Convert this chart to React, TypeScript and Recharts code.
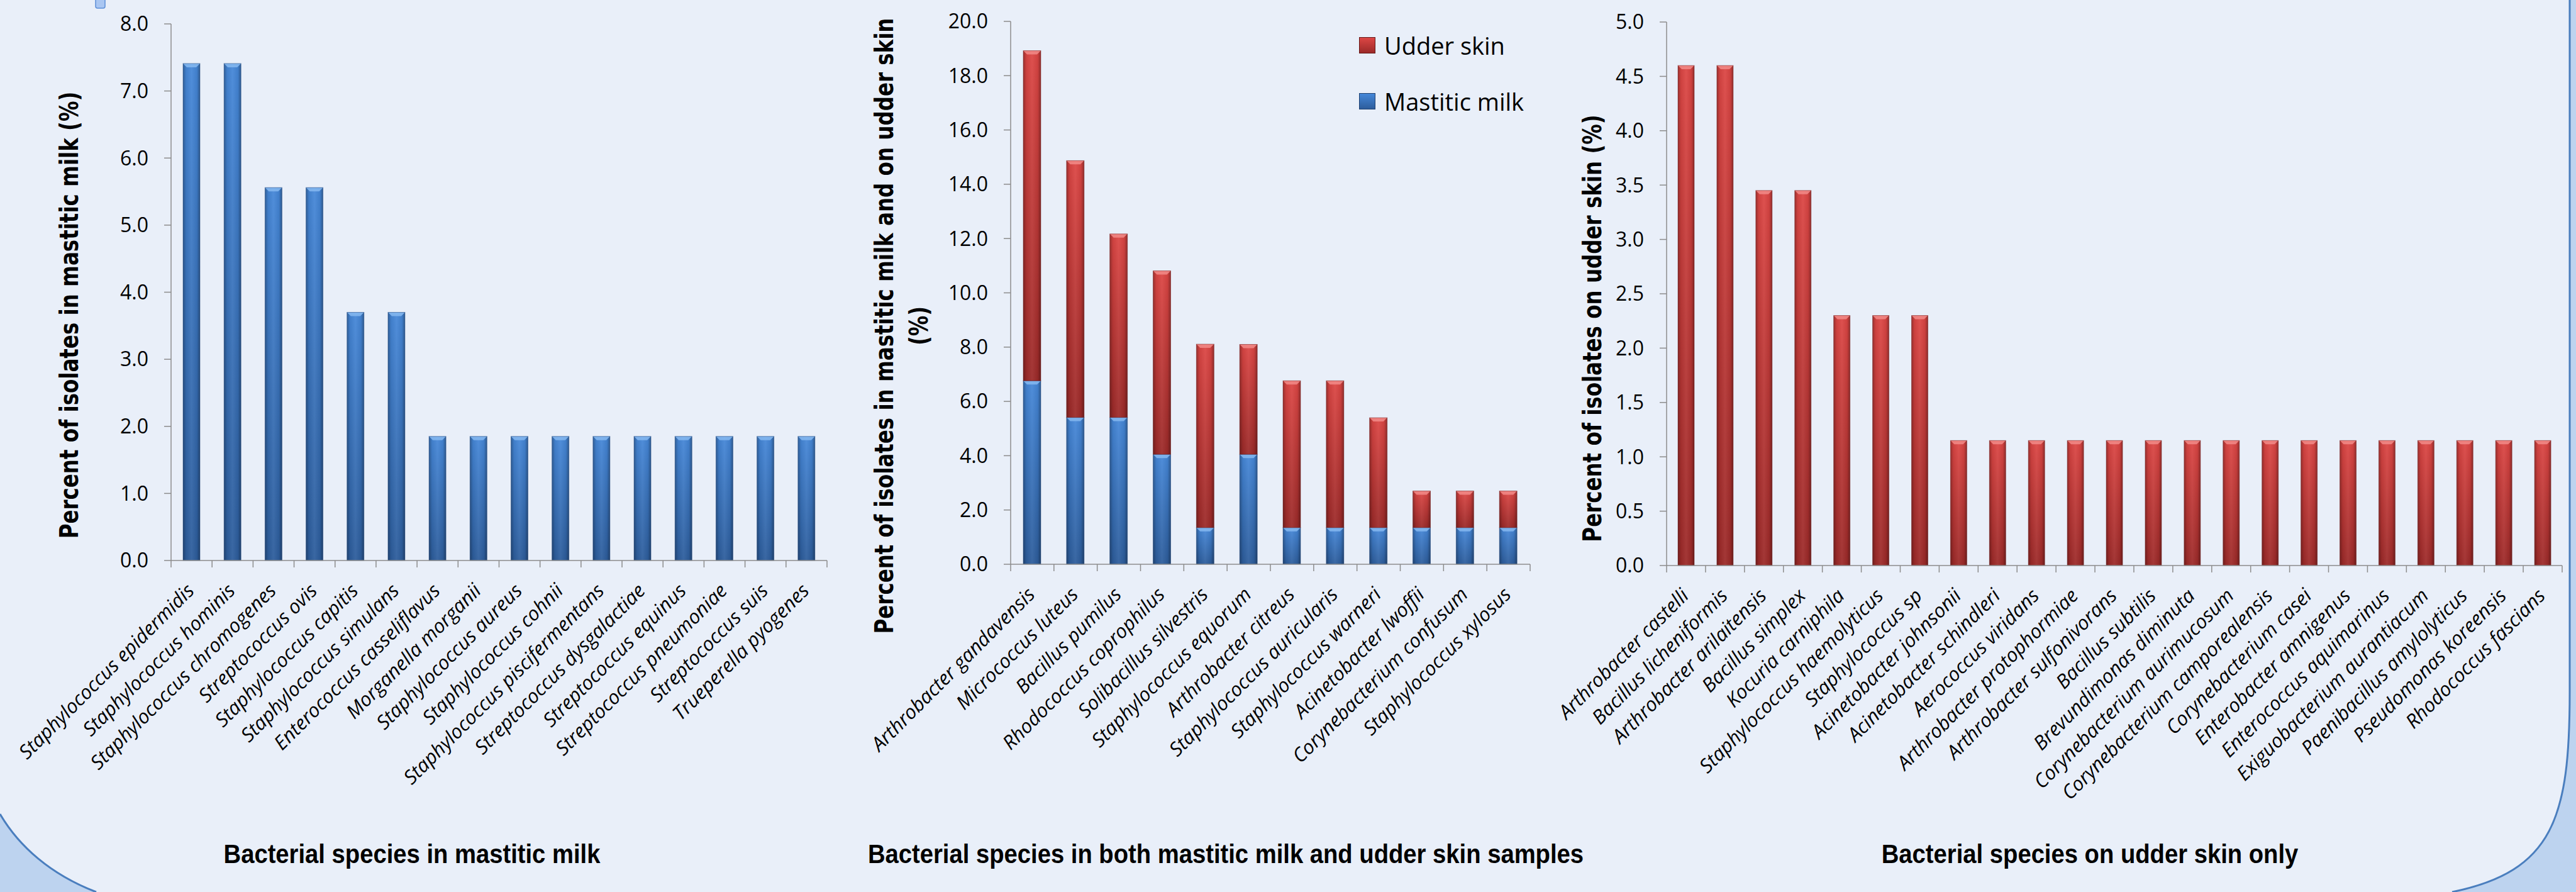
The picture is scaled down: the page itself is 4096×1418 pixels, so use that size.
import React from "react";
import { BarChart, Bar, XAxis, YAxis, Legend } from "recharts";

// Bacterial species in mastitic milk
const milkSpecies = [
  "Staphylococcus epidermidis",
  "Staphylococcus hominis",
  "Staphylococcus chromogenes",
  "Streptococcus ovis",
  "Staphylococcus capitis",
  "Staphylococcus simulans",
  "Enterococcus casseliflavus",
  "Morganella morganii",
  "Staphylococcus aureus",
  "Staphylococcus cohnii",
  "Staphylococcus piscifermentans",
  "Streptococcus dysgalactiae",
  "Streptococcus equinus",
  "Streptococcus pneumoniae",
  "Streptococcus suis",
  "Trueperella pyogenes",
];
const milkValues = [7.41, 7.41, 5.56, 5.56, 3.7, 3.7, 1.85, 1.85, 1.85, 1.85, 1.85, 1.85, 1.85, 1.85, 1.85, 1.85];
const milkTicks = [0, 1, 2, 3, 4, 5, 6, 7, 8];

// Bacterial species in both sample types (stacked)
const sharedSpecies = [
  "Arthrobacter gandavensis",
  "Micrococcus luteus",
  "Bacillus pumilus",
  "Rhodococcus coprophilus",
  "Solibacillus silvestris",
  "Staphylococcus equorum",
  "Arthrobacter citreus",
  "Staphylococcus auricularis",
  "Staphylococcus warneri",
  "Acinetobacter lwoffii",
  "Corynebacterium confusum",
  "Staphylococcus xylosus",
];
const sharedMilk = [6.76, 5.41, 5.41, 4.05, 1.35, 4.05, 1.35, 1.35, 1.35, 1.35, 1.35, 1.35];
const sharedSkin = [12.16, 9.46, 6.76, 6.76, 6.76, 4.05, 5.41, 5.41, 4.05, 1.35, 1.35, 1.35];
const sharedTicks = [0, 2, 4, 6, 8, 10, 12, 14, 16, 18, 20];

// Bacterial species on udder skin only
const skinSpecies = [
  "Arthrobacter castelli",
  "Bacillus licheniformis",
  "Arthrobacter arilaitensis",
  "Bacillus simplex",
  "Kocuria carniphila",
  "Staphylococcus haemolyticus",
  "Staphylococcus sp",
  "Acinetobacter johnsonii",
  "Acinetobacter schindleri",
  "Aerococcus viridans",
  "Arthrobacter protophormiae",
  "Arthrobacter sulfonivorans",
  "Bacillus subtilis",
  "Brevundimonas diminuta",
  "Corynebacterium aurimucosum",
  "Corynebacterium camporealensis",
  "Corynebacterium casei",
  "Enterobacter amnigenus",
  "Enterococcus aquimarinus",
  "Exiguobacterium aurantiacum",
  "Paenibacillus amylolyticus",
  "Pseudomonas koreensis",
  "Rhodococcus fascians",
];
const skinValues = [4.6, 4.6, 3.45, 3.45, 2.3, 2.3, 2.3, 1.15, 1.15, 1.15, 1.15, 1.15, 1.15, 1.15, 1.15, 1.15, 1.15, 1.15, 1.15, 1.15, 1.15, 1.15, 1.15];
const skinTicks = [0, 0.5, 1, 1.5, 2, 2.5, 3, 3.5, 4, 4.5, 5];

const milkData = milkSpecies.map((name, i) => ({ name, value: milkValues[i] }));
const sharedData = sharedSpecies.map((name, i) => ({ name, milk: sharedMilk[i], skin: sharedSkin[i] }));
const skinData = skinSpecies.map((name, i) => ({ name, value: skinValues[i] }));

const W = 4096;
const H = 1418;
const XH = 30;
const YW = 100;
const AXIS = "#8c8c8c";
const TICK_FONT = "'Open Sans', sans-serif";
const TITLE_FONT = "'DejaVu Sans', Verdana, sans-serif";
const XTITLE_FONT = "'Liberation Sans', Arial, sans-serif";

const p1 = { axisX: 272, axisEnd: 1315, top: 38, axisY: 891, barSize: 27 };
const p2 = { axisX: 1607, axisEnd: 2433, top: 34, axisY: 897, barSize: 28 };
const p3 = { axisX: 2650, axisEnd: 4074, top: 35, axisY: 899, barSize: 26 };

const frame = (p: typeof p1) => ({
  top: p.top,
  right: W - p.axisEnd,
  bottom: H - p.axisY - XH,
  left: p.axisX - YW,
});

const TONES: Record<string, { top: string; bottom: string; edge: string; cap: string }> = {
  blue: { top: "#4587d8", bottom: "#2d5d9c", edge: "#1d3f70", cap: "#86b8f0" },
  red: { top: "#dc4644", bottom: "#9c2a29", edge: "#641716", cap: "#f28b88" },
};

const Defs = ({ pre }: { pre: string }) => (
  <defs>
    {Object.keys(TONES).map((t) => (
      <linearGradient key={t} id={`${pre}-v-${t}`} x1="0" y1="0" x2="0" y2="1">
        <stop offset="0" stopColor={TONES[t].top} />
        <stop offset="1" stopColor={TONES[t].bottom} />
      </linearGradient>
    ))}
    <linearGradient id={`${pre}-h`} x1="0" y1="0" x2="1" y2="0">
      <stop offset="0" stopColor="#000" stopOpacity="0.3" />
      <stop offset="0.18" stopColor="#000" stopOpacity="0.06" />
      <stop offset="0.5" stopColor="#fff" stopOpacity="0.06" />
      <stop offset="0.82" stopColor="#000" stopOpacity="0.06" />
      <stop offset="1" stopColor="#000" stopOpacity="0.34" />
    </linearGradient>
  </defs>
);

// bevelled bar like the office 2007 style
const BevelBar = (props: any) => {
  const { x, y, width, height, tone, pre } = props;
  if (!height || height <= 0) return null;
  const c = TONES[tone];
  const b = Math.min(6, height / 2);
  return (
    <g>
      <rect x={x} y={y} width={width} height={height} fill={`url(#${pre}-v-${tone})`} />
      <rect x={x} y={y} width={width} height={height} fill={`url(#${pre}-h)`} />
      <polygon
        points={`${x},${y} ${x + width},${y} ${x + width - b},${y + b} ${x + b},${y + b}`}
        fill={c.cap}
        opacity={0.85}
      />
      <rect x={x} y={y} width={width} height={height} fill="none" stroke={c.edge} strokeOpacity={0.45} strokeWidth={1} />
    </g>
  );
};

const makeTick = (p: typeof p1, n: number) => (props: any) => {
  const { x, index, payload } = props;
  const band = (p.axisEnd - p.axisX) / n;
  const tx = x + 6;
  const ty = p.axisY + 50;
  return (
    <g>
      <line x1={x - band / 2} y1={p.axisY} x2={x - band / 2} y2={p.axisY + 11} stroke={AXIS} strokeWidth={1.5} />
      {index === n - 1 && (
        <line x1={x + band / 2} y1={p.axisY} x2={x + band / 2} y2={p.axisY + 11} stroke={AXIS} strokeWidth={1.5} />
      )}
      <text
        x={tx}
        y={ty}
        transform={`rotate(-45 ${tx} ${ty})`}
        textAnchor="end"
        fontFamily={TICK_FONT}
        fontStyle="italic"
        fontSize={31}
        fill="#000"
      >
        {payload.value}
      </text>
    </g>
  );
};

// rotated title, glyphs stretched a little across the line to look like the original's heavier face
const yTitle = (lines: string[], xs: number[], cy: number) => () => (
  <g>
    {lines.map((t, i) => (
      <text
        key={i}
        x={0}
        y={0}
        transform={`translate(${xs[i]} ${cy}) rotate(-90) scale(1 1.25)`}
        textAnchor="middle"
        dominantBaseline="central"
        fontFamily={TITLE_FONT}
        fontWeight="bold"
        fontSize={32.5}
        fill="#000"
      >
        {t}
      </text>
    ))}
  </g>
);

const xTitle = (text: string, cx: number) => () => (
  <text
    x={0}
    y={0}
    transform={`translate(${cx} 1372) scale(0.91 1)`}
    textAnchor="middle"
    fontFamily={XTITLE_FONT}
    fontWeight="bold"
    fontSize={42}
    fill="#000"
  >
    {text}
  </text>
);

const yAxisProps = (ticks: number[]) => ({
  type: "number" as const,
  domain: [ticks[0], ticks[ticks.length - 1]],
  ticks,
  interval: 0 as const,
  width: YW,
  tickSize: 11,
  tickMargin: 25,
  tickFormatter: (v: number) => v.toFixed(1),
  axisLine: { stroke: AXIS, strokeWidth: 1.5 },
  tickLine: { stroke: AXIS, strokeWidth: 1.5 },
  tick: { fontFamily: TICK_FONT, fontSize: 32, fill: "#000" },
});

const legendTone: Record<string, string> = { "Udder skin": "red", "Mastitic milk": "blue" };

const LegendBox = (props: any) => {
  const items = [...(props.payload || [])].reverse();
  return (
    <div style={{ display: "flex", flexDirection: "column", gap: 49 }}>
      {items.map((it: any) => {
        const c = TONES[legendTone[it.value]];
        return (
          <div key={it.value} style={{ display: "flex", alignItems: "center", height: 40 }}>
            <span
              style={{
                width: 26,
                height: 26,
                background: `linear-gradient(${c.top}, ${c.bottom})`,
                border: `1px solid ${c.edge}`,
                boxSizing: "border-box",
              }}
            />
            <span style={{ marginLeft: 14, fontFamily: TICK_FONT, fontSize: 38, color: "#000", lineHeight: "40px" }}>
              {it.value}
            </span>
          </div>
        );
      })}
    </div>
  );
};

const Background = () => (
  <svg width={W} height={H} style={{ position: "absolute", left: 0, top: 0 }}>
    <rect x={0} y={0} width={W} height={H} fill="#e9eff9" />
    <path d="M0,1294 C30,1345 80,1390 153,1418 L0,1418 Z" fill="#bdd3ef" />
    <path d="M0,1294 C30,1345 80,1390 153,1418" fill="none" stroke="#4a7ebe" strokeWidth={3} />
    <path d="M4086,0 L4096,0 L4096,1418 L3899,1418 C4060,1385 4086,1300 4086,1100 Z" fill="#bdd3ef" />
    <path d="M4086,0 L4086,1100 C4086,1300 4060,1385 3899,1418" fill="none" stroke="#4a7ebe" strokeWidth={3} />
    <rect x={152} y={-6} width={15} height={19} rx={3} fill="#a9c6f2" stroke="#5c8fd8" strokeWidth={1.5} />
  </svg>
);

const layer: React.CSSProperties = { position: "absolute", left: 0, top: 0 };

export default function App() {
  return (
    <div style={{ position: "absolute", left: 0, top: 0, width: W, height: H, overflow: "hidden" }}>
      <Background />

      <div style={layer}>
        <BarChart width={W} height={H} data={milkData} margin={frame(p1)}>
          <Defs pre="c1" />
          <XAxis
            dataKey="name"
            interval={0}
            height={XH}
            tickLine={false}
            axisLine={{ stroke: AXIS, strokeWidth: 1.5 }}
            tick={makeTick(p1, milkData.length)}
            label={{ content: xTitle("Bacterial species in mastitic milk", 655) }}
          />
          <YAxis
            {...yAxisProps(milkTicks)}
            label={{ content: yTitle(["Percent of isolates in mastitic milk (%)"], [110], 501) }}
          />
          <Bar
            dataKey="value"
            barSize={p1.barSize}
            isAnimationActive={false}
            shape={(p: any) => <BevelBar {...p} tone="blue" pre="c1" />}
          />
        </BarChart>
      </div>

      <div style={layer}>
        <BarChart width={W} height={H} data={sharedData} margin={frame(p2)}>
          <Defs pre="c2" />
          <XAxis
            dataKey="name"
            interval={0}
            height={XH}
            tickLine={false}
            axisLine={{ stroke: AXIS, strokeWidth: 1.5 }}
            tick={makeTick(p2, sharedData.length)}
            label={{ content: xTitle("Bacterial species in both mastitic milk and udder skin samples", 1949) }}
          />
          <YAxis
            {...yAxisProps(sharedTicks)}
            label={{
              content: yTitle(["Percent of isolates in mastitic milk and on udder skin", "(%)"], [1406, 1461], 518),
            }}
          />
          <Legend
            layout="vertical"
            align="center"
            verticalAlign="middle"
            content={LegendBox}
            wrapperStyle={{ left: 2161, top: 52, width: 400, height: "auto" }}
          />
          <Bar
            dataKey="milk"
            name="Mastitic milk"
            stackId="s"
            barSize={p2.barSize}
            isAnimationActive={false}
            shape={(p: any) => <BevelBar {...p} tone="blue" pre="c2" />}
          />
          <Bar
            dataKey="skin"
            name="Udder skin"
            stackId="s"
            barSize={p2.barSize}
            isAnimationActive={false}
            shape={(p: any) => <BevelBar {...p} tone="red" pre="c2" />}
          />
        </BarChart>
      </div>

      <div style={layer}>
        <BarChart width={W} height={H} data={skinData} margin={frame(p3)}>
          <Defs pre="c3" />
          <XAxis
            dataKey="name"
            interval={0}
            height={XH}
            tickLine={false}
            axisLine={{ stroke: AXIS, strokeWidth: 1.5 }}
            tick={makeTick(p3, skinData.length)}
            label={{ content: xTitle("Bacterial species on udder skin only", 3323) }}
          />
          <YAxis
            {...yAxisProps(skinTicks)}
            label={{ content: yTitle(["Percent of isolates on udder skin (%)"], [2532], 522) }}
          />
          <Bar
            dataKey="value"
            barSize={p3.barSize}
            isAnimationActive={false}
            shape={(p: any) => <BevelBar {...p} tone="red" pre="c3" />}
          />
        </BarChart>
      </div>
    </div>
  );
}
